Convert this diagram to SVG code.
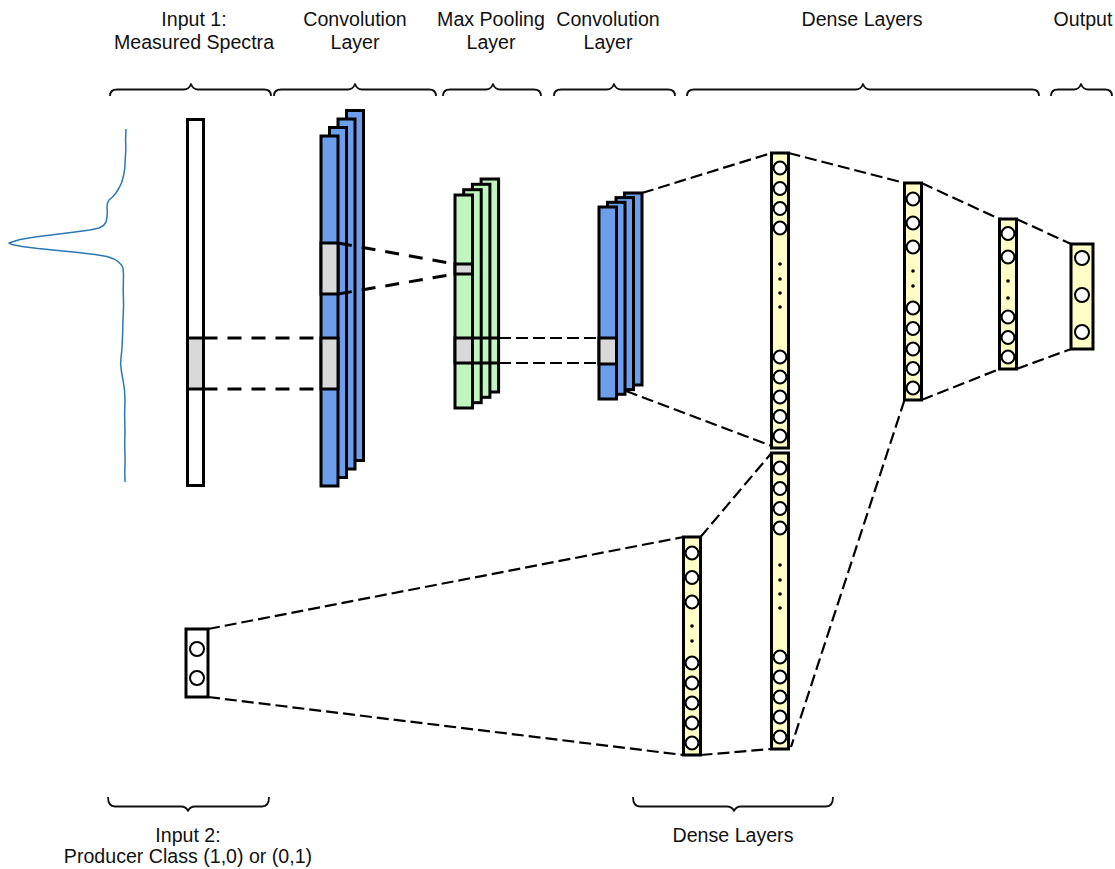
<svg xmlns="http://www.w3.org/2000/svg" width="1115" height="869" viewBox="0 0 1115 869">
<style>
.lbl{font-family:"Liberation Sans",Arial,sans-serif;font-size:19.6px;fill:#111;text-anchor:middle}
.brace{fill:none;stroke:#111;stroke-width:1.8;stroke-linejoin:round}
.box{stroke:#000;stroke-width:3}
.white{fill:#fff}
.conv{fill:#6d9eeb}
.pool{fill:#c0f5c0}
.dense{fill:#fefec6}
.hl{fill:#d9d9d9;stroke:#000;stroke-width:3}
.neuron{fill:#fff;stroke:#000;stroke-width:2}
.dot{fill:#000}
.dashT{fill:none;stroke:#000;stroke-width:3;stroke-dasharray:14 10}
.dash{fill:none;stroke:#000;stroke-width:2.2;stroke-dasharray:12 5}
.edge{fill:none;stroke:#000;stroke-width:3}
</style>
<rect width="1115" height="869" fill="#fff"/>

<g id="labels">
<text class="lbl" x="194" y="26">Input 1:</text>
<text class="lbl" x="194" y="49">Measured Spectra</text>
<text class="lbl" x="355" y="26">Convolution</text>
<text class="lbl" x="355" y="49">Layer</text>
<text class="lbl" x="491" y="26">Max Pooling</text>
<text class="lbl" x="491" y="49">Layer</text>
<text class="lbl" x="608" y="26">Convolution</text>
<text class="lbl" x="608" y="49">Layer</text>
<text class="lbl" x="862" y="26">Dense Layers</text>
<text class="lbl" x="1083" y="26">Output</text>
<text class="lbl" x="188" y="842">Input 2:</text>
<text class="lbl" x="188" y="863">Producer Class (1,0) or (0,1)</text>
<text class="lbl" x="733" y="842">Dense Layers</text>
</g>

<g id="braces">
<path class="brace" d="M110,96 Q110,89.5 117,89.5 L184,89.5 Q189,89.5 191,84 Q193,89.5 198,89.5 L264,89.5 Q271,89.5 271,96"/>
<path class="brace" d="M274,96 Q274,89.5 281,89.5 L348,89.5 Q353,89.5 355,84 Q357,89.5 362,89.5 L429,89.5 Q436,89.5 436,96"/>
<path class="brace" d="M443,96 Q443,89.5 450,89.5 L486,89.5 Q491,89.5 493,84 Q495,89.5 500,89.5 L534,89.5 Q541,89.5 541,96"/>
<path class="brace" d="M554,96 Q554,89.5 561,89.5 L607,89.5 Q612,89.5 614,84 Q616,89.5 621,89.5 L668,89.5 Q675,89.5 675,96"/>
<path class="brace" d="M687,96 Q687,89.5 694,89.5 L856,89.5 Q861,89.5 863,84 Q865,89.5 870,89.5 L1032,89.5 Q1039,89.5 1039,96"/>
<path class="brace" d="M1051,96 Q1051,89.5 1058,89.5 L1074,89.5 Q1079,89.5 1081,84 Q1083,89.5 1088,89.5 L1105,89.5 Q1112,89.5 1112,96"/>
<path class="brace" d="M108,797 Q108,806.5 115,806.5 L181,806.5 Q186,806.5 188,811 Q190,806.5 195,806.5 L262,806.5 Q269,806.5 269,797"/>
<path class="brace" d="M633,797 Q633,806.5 640,806.5 L727,806.5 Q732,806.5 734,811 Q736,806.5 741,806.5 L826,806.5 Q833,806.5 833,797"/>
</g>

<g id="spectrum">
<polyline fill="none" stroke="#2a78b8" stroke-width="1.5" stroke-linejoin="round" points="126,129 125.6,140 125.8,150 125.2,160 124.8,168 123.5,176 121.5,183 119,188 116,193 112.5,197 109,200 107.5,203 107,207 107.3,212 107,217 106,222 103.5,225.5 99,228 90,230 75,232 55,234.5 35,237 20,239.5 12,242 9,243 12,244.5 22,246.5 38,248.5 58,250.5 78,252.5 95,254.5 107,256.5 114,259 118.5,262 121.5,265 123,268 123.5,275 123.2,290 123.6,305 123,320 122.6,335 122,348 121,358 120.6,364 121.5,372 123,380 124.5,390 125,400 124.6,415 125,430 124.7,445 125.1,460 124.8,472 125,482"/>
</g>

<g id="input1">
<rect class="box white" x="187.5" y="119.5" width="16" height="366"/>
<rect class="hl" x="187.5" y="338" width="16" height="51"/>
</g>

<g id="conv1">
<rect class="box conv" x="346.5" y="110.5" width="17" height="350"/>
<rect class="box conv" x="338" y="119" width="17" height="350"/>
<rect class="box conv" x="329.5" y="127.5" width="17" height="350"/>
<rect class="box conv" x="321" y="136" width="17" height="350"/>
<rect class="hl" x="321" y="243" width="17" height="51"/>
<rect class="hl" x="321" y="338" width="17" height="51"/>
</g>

<g id="pool">
<rect class="box pool" x="481.1" y="179" width="17.5" height="213"/>
<rect class="box pool" x="472.4" y="184.3" width="17.5" height="213"/>
<rect class="box pool" x="463.7" y="189.7" width="17.5" height="213"/>
<rect class="box pool" x="455" y="195" width="17.5" height="213"/>
<rect class="hl" x="455" y="264" width="17.5" height="10"/>
<rect class="hl" x="455" y="338" width="17.5" height="25"/>
<path class="edge" d="M472.5,338 H499 M472.5,363 H499"/>
</g>

<g id="connectors">
<path class="dashT" d="M203.5,338 H321"/>
<path class="dashT" d="M203.5,389 H321"/>
<path class="dashT" d="M338,243 L455,264"/>
<path class="dashT" d="M338,294 L455,274"/>
<path class="dash" d="M499,338 H599"/>
<path class="dash" d="M499,363 H599"/>
<path class="dash" d="M642,193 L771.5,153"/>
<path class="dash" d="M626,391 L771.5,446"/>
<path class="dash" d="M788.5,153 L904.5,183"/>
<path class="dash" d="M921.5,183 L999.5,219"/>
<path class="dash" d="M1016.5,219 L1071,244"/>
<path class="dash" d="M1016.5,369 L1071,349"/>
<path class="dash" d="M921.5,400 L999.5,369"/>
<path class="dash" d="M904.5,400 L791,747"/>
<path class="dash" d="M700.5,537 L771.5,453"/>
<path class="dash" d="M700.5,755 L771.5,749"/>
<path class="dash" d="M208,629 L683.5,537"/>
<path class="dash" d="M208,697 L683.5,755"/>
</g>

<g id="conv2">
<rect class="box conv" x="624.5" y="193" width="17.5" height="192"/>
<rect class="box conv" x="616" y="197.6" width="17.5" height="192"/>
<rect class="box conv" x="607.5" y="202.3" width="17.5" height="192"/>
<rect class="box conv" x="599" y="207" width="17.5" height="192"/>
<rect class="hl" x="599" y="338" width="17.5" height="26"/>
</g>

<g id="dense1">
<rect class="box dense" x="771.5" y="153" width="17" height="295"/>
<circle class="neuron" cx="780" cy="168" r="6.4"/>
<circle class="neuron" cx="780" cy="188.5" r="6.4"/>
<circle class="neuron" cx="780" cy="208.5" r="6.4"/>
<circle class="neuron" cx="780" cy="228" r="6.4"/>
<circle class="dot" cx="780" cy="264" r="1.8"/>
<circle class="dot" cx="780" cy="279" r="1.8"/>
<circle class="dot" cx="780" cy="293" r="1.8"/>
<circle class="dot" cx="780" cy="307" r="1.8"/>
<circle class="neuron" cx="780" cy="357" r="6.4"/>
<circle class="neuron" cx="780" cy="377" r="6.4"/>
<circle class="neuron" cx="780" cy="397" r="6.4"/>
<circle class="neuron" cx="780" cy="416.5" r="6.4"/>
<circle class="neuron" cx="780" cy="436" r="6.4"/>
</g>

<g id="dense4">
<rect class="box dense" x="771.5" y="453" width="17" height="296"/>
<circle class="neuron" cx="780" cy="468" r="6.4"/>
<circle class="neuron" cx="780" cy="488.5" r="6.4"/>
<circle class="neuron" cx="780" cy="508.5" r="6.4"/>
<circle class="neuron" cx="780" cy="528" r="6.4"/>
<circle class="dot" cx="780" cy="565" r="1.8"/>
<circle class="dot" cx="780" cy="580" r="1.8"/>
<circle class="dot" cx="780" cy="594" r="1.8"/>
<circle class="dot" cx="780" cy="608" r="1.8"/>
<circle class="neuron" cx="780" cy="657" r="6.4"/>
<circle class="neuron" cx="780" cy="677" r="6.4"/>
<circle class="neuron" cx="780" cy="697" r="6.4"/>
<circle class="neuron" cx="780" cy="717" r="6.4"/>
<circle class="neuron" cx="780" cy="737" r="6.4"/>
</g>

<g id="dense2">
<rect class="box dense" x="904.5" y="183" width="17" height="217"/>
<circle class="neuron" cx="913" cy="199" r="6.4"/>
<circle class="neuron" cx="913" cy="223" r="6.4"/>
<circle class="neuron" cx="913" cy="247" r="6.4"/>
<circle class="dot" cx="913" cy="271" r="1.8"/>
<circle class="dot" cx="913" cy="286" r="1.8"/>
<circle class="neuron" cx="913" cy="308" r="6.4"/>
<circle class="neuron" cx="913" cy="328.5" r="6.4"/>
<circle class="neuron" cx="913" cy="349" r="6.4"/>
<circle class="neuron" cx="913" cy="368.5" r="6.4"/>
<circle class="neuron" cx="913" cy="388" r="6.4"/>
</g>

<g id="dense3">
<rect class="box dense" x="999.5" y="219" width="17" height="150"/>
<circle class="neuron" cx="1008" cy="233.5" r="6.4"/>
<circle class="neuron" cx="1008" cy="257" r="6.4"/>
<circle class="dot" cx="1008" cy="281" r="1.8"/>
<circle class="dot" cx="1008" cy="298" r="1.8"/>
<circle class="neuron" cx="1008" cy="317" r="6.4"/>
<circle class="neuron" cx="1008" cy="337.5" r="6.4"/>
<circle class="neuron" cx="1008" cy="357" r="6.4"/>
</g>

<g id="output">
<rect class="box dense" x="1071" y="244" width="22" height="105"/>
<circle class="neuron" cx="1082" cy="258" r="7"/>
<circle class="neuron" cx="1082" cy="295" r="7"/>
<circle class="neuron" cx="1082" cy="332" r="7"/>
</g>

<g id="dense5">
<rect class="box dense" x="683.5" y="537" width="17" height="218"/>
<circle class="neuron" cx="692" cy="553" r="6.4"/>
<circle class="neuron" cx="692" cy="577.5" r="6.4"/>
<circle class="neuron" cx="692" cy="602" r="6.4"/>
<circle class="dot" cx="692" cy="626" r="1.8"/>
<circle class="dot" cx="692" cy="641" r="1.8"/>
<circle class="neuron" cx="692" cy="663" r="6.4"/>
<circle class="neuron" cx="692" cy="683" r="6.4"/>
<circle class="neuron" cx="692" cy="703" r="6.4"/>
<circle class="neuron" cx="692" cy="723" r="6.4"/>
<circle class="neuron" cx="692" cy="743" r="6.4"/>
</g>

<g id="input2">
<rect class="box white" x="186" y="629" width="22" height="68"/>
<circle class="neuron" cx="197" cy="649" r="7"/>
<circle class="neuron" cx="197" cy="678" r="7"/>
</g>
</svg>
